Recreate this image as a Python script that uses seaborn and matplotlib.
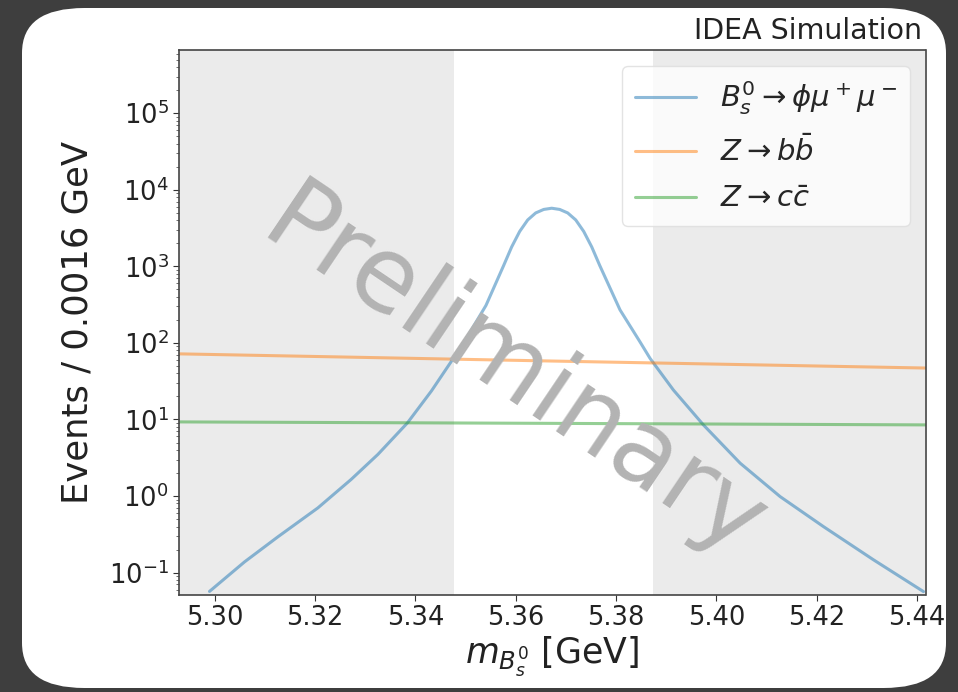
import numpy as np
import pandas as pd
import matplotlib
matplotlib.use("Agg")
import matplotlib.pyplot as plt
import seaborn as sns
from matplotlib.patches import FancyBboxPatch
from matplotlib.ticker import FixedLocator, FormatStrFormatter

# ---- data ----
sig_mass = [5.29898, 5.30596, 5.31260, 5.32058, 5.32722, 5.33255, 5.33843, 5.34322,
            5.34711, 5.34960, 5.35409, 5.35762, 5.35921, 5.36081, 5.36241, 5.36400,
            5.36560, 5.36719, 5.36879, 5.37038, 5.37198, 5.37357, 5.37517, 5.37676,
            5.38081, 5.38480, 5.38680, 5.39144, 5.39743, 5.40475, 5.41272, 5.42136,
            5.43133, 5.44130]
sig_events = [0.0568, 0.138, 0.293, 0.700, 1.65, 3.50, 9.02, 23.6,
              56.5, 99.1, 309, 1029, 1795, 2860, 4042, 4988,
              5541, 5746, 5541, 4988, 4042, 2860, 1795, 1029,
              270, 103, 62.8, 24.3, 8.50, 2.69, 0.984, 0.399,
              0.147, 0.0565]
bb_mass = [5.2929, 5.3673, 5.4417]
bb_events = [72.0, 58.0, 47.0]
cc_mass = [5.2929, 5.3673, 5.4417]
cc_events = [9.3, 8.9, 8.5]
labels = [r"$B_s^0 \rightarrow \phi\mu^+\mu^-$", r"$Z \rightarrow b\bar{b}$", r"$Z \rightarrow c\bar{c}$"]
x_ticks = [5.30, 5.32, 5.34, 5.36, 5.38, 5.40, 5.42, 5.44]
window = (5.3478, 5.3873)
xlim = (5.2929, 5.4417)
ylim = (0.051, 6.7e5)

df = pd.concat([
    pd.DataFrame({"mass": sig_mass, "events": sig_events, "sample": labels[0]}),
    pd.DataFrame({"mass": bb_mass, "events": bb_events, "sample": labels[1]}),
    pd.DataFrame({"mass": cc_mass, "events": cc_events, "sample": labels[2]}),
])

sns.set_style("ticks")
plt.rcParams["font.family"] = ["DejaVu Sans"]
plt.rcParams["mathtext.fontset"] = "dejavusans"

fig = plt.figure(figsize=(9.58, 6.92), dpi=100)
fig.patch.set_facecolor("#3e3e3e")
# white rounded card behind everything
card = FancyBboxPatch((22 / 958, 4 / 692), 924 / 958, 680 / 692,
                      boxstyle="round,pad=0,rounding_size=0.065",
                      transform=fig.transFigure, facecolor="white",
                      edgecolor="none", zorder=-5)
fig.patches.append(card)

ax = fig.add_axes([179 / 958, 1 - 595 / 692, (925.5 - 179) / 958, (595 - 50) / 692])
ax.set_zorder(1)
ax.set_facecolor("white")
ax.axvspan(xlim[0], window[0], color="#ebebeb", lw=0, zorder=0)
ax.axvspan(window[1], xlim[1], color="#ebebeb", lw=0, zorder=0)

palette = ["#1f77b4", "#ff7f0e", "#2ca02c"]
sns.lineplot(data=df, x="mass", y="events", hue="sample", palette=palette,
             estimator=None, sort=False, ax=ax, linewidth=2.2, alpha=0.5)

ax.set_yscale("log")
ax.set_xlim(*xlim)
ax.set_ylim(*ylim)
ax.xaxis.set_major_locator(FixedLocator(x_ticks))
ax.xaxis.set_major_formatter(FormatStrFormatter("%.2f"))
ax.tick_params(axis="both", which="major", labelsize=18.5, colors="#333333",
               labelcolor="#222222", length=4)
ax.tick_params(axis="y", which="minor", length=2.5, colors="#555555")
for s in ax.spines.values():
    s.set_color("#444444")
    s.set_linewidth(1.2)

ax.set_xlabel(r"$m_{B_s^0}$ [GeV]", fontsize=25, color="#222222", labelpad=2)
ax.set_ylabel("Events / 0.0016 GeV", fontsize=25.5, color="#222222", labelpad=10)

leg = ax.legend(loc="upper right", fontsize=21, frameon=True, framealpha=0.8,
                handlelength=2.1, handletextpad=0.8, borderpad=0.45,
                labelspacing=0.62, borderaxespad=0,
                bbox_to_anchor=(1 - 15.5 / 746.5, 1 - 16 / 545))
leg.get_frame().set_edgecolor("#dddddd")
for line in leg.get_lines():
    line.set_linewidth(2.2)
    line.set_alpha(0.5)

fig.text(922 / 958, 1 - 31 / 692, "IDEA Simulation", ha="right", va="center",
         fontsize=20.5, color="#222222")
fig.text(514 / 958, 1 - 375 / 692, "Preliminary", ha="center", va="center",
         rotation=-34, fontsize=74, color="#b3b3b3", zorder=10)

fig.savefig("out.png", dpi=100, facecolor=fig.get_facecolor())
